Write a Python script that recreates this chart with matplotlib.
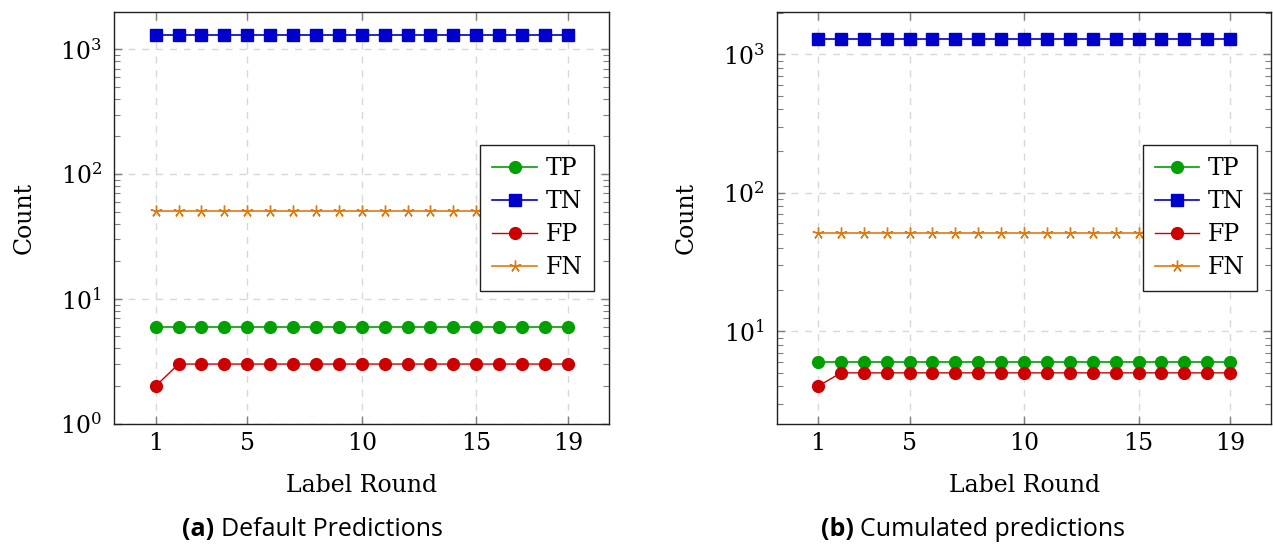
import matplotlib
matplotlib.use("Agg")
import matplotlib.pyplot as plt
from matplotlib.ticker import LogLocator, NullFormatter, FixedLocator

# Label rounds 1..19
rounds = list(range(1, 20))
xticks = [1, 5, 10, 15, 19]

# (a) default predictions
tp_a = [6] * 19
tn_a = [1290] * 19
fp_a = [2] + [3] * 18
fn_a = [51] * 19

# (b) cumulated predictions
tp_b = [6] * 19
tn_b = [1300] * 19
fp_b = [4] + [5] * 18
fn_b = [51] * 19

captions = [("(a)", "Default Predictions"), ("(b)", "Cumulated predictions")]

plt.rcParams["mathtext.fontset"] = "dejavuserif"
SERIF = ["DejaVu Serif"]

C_TP = "#00a000"
C_TN = "#0000cc"
C_FP = "#cc0000"
C_FN = "#e07a10"

fig = plt.figure(figsize=(12.73, 5.47), dpi=100)

# left edge, y-limits, series, caption split point (px)
panels = [
    (0.0899, (1.0, 1980), (tp_a, tn_a, fp_a, fn_a), 221),
    (0.6102, (2.15, 2014), (tp_b, tn_b, fp_b, fn_b), 860),
]

for i, (left, ylim, series, cap_x) in enumerate(panels):
    ax = fig.add_axes([left, 0.2256, 0.3885, 0.752])
    tp, tn, fp, fn = series
    ax.plot(rounds, tp, color=C_TP, marker="o", ms=8.5, lw=1.2, label="TP", zorder=3)
    ax.plot(rounds, tn, color=C_TN, marker="s", ms=8.0, lw=1.2, label="TN", zorder=3)
    ax.plot(rounds, fp, color=C_FP, marker="o", ms=8.5, lw=1.0, label="FP", zorder=3)
    ax.plot(rounds, fn, color=C_FN, marker=(5, 2, 0), ms=8.5, mew=1.0,
            mec=C_FN, lw=1.2, label="FN", zorder=3)

    ax.set_yscale("log")
    ax.set_xlim(-0.8, 20.8)
    ax.set_ylim(*ylim)
    ax.xaxis.set_major_locator(FixedLocator(xticks))
    ax.yaxis.set_major_locator(LogLocator(base=10, numticks=10))
    ax.yaxis.set_minor_locator(LogLocator(base=10, subs=range(2, 10), numticks=20))
    ax.yaxis.set_minor_formatter(NullFormatter())
    ax.grid(True, which="major", ls=(0, (5, 5)), color="#d8d8d8", lw=1.0, zorder=0)

    ax.tick_params(which="both", direction="in", top=True, right=True,
                   color="#808080", labelsize=17, pad=9)
    ax.tick_params(axis="x", pad=6)
    ax.tick_params(which="major", length=6, width=1.0)
    ax.tick_params(which="minor", length=4, width=0.8)
    ax.tick_params(axis="x", which="minor", bottom=False, top=False)
    for lab in ax.get_xticklabels() + ax.get_yticklabels():
        lab.set_family(SERIF)
    for sp in ax.spines.values():
        sp.set_color("#202020")
        sp.set_linewidth(1.0)

    ax.set_xlabel("Label Round", fontsize=17, family=SERIF, labelpad=14)
    ax.set_ylabel("Count", fontsize=17, family=SERIF, labelpad=18)

    leg = ax.legend(loc="center right", bbox_to_anchor=(0.97, 0.50),
                    prop={"family": SERIF, "size": 17}, fancybox=False,
                    edgecolor="#202020", framealpha=1, borderpad=0.5,
                    handlelength=1.9, handletextpad=0.35, labelspacing=0.42,
                    borderaxespad=0)
    leg.get_frame().set_linewidth(1.0)

    tag, text = captions[i]
    fig.text(cap_x / 1273, 1 - 530 / 547, tag + " ", fontsize=18, family="Open Sans",
             weight="bold", ha="right", va="center")
    fig.text(cap_x / 1273, 1 - 530 / 547, text, fontsize=18, family="Open Sans",
             ha="left", va="center")

fig.savefig("out.png", dpi=100)
